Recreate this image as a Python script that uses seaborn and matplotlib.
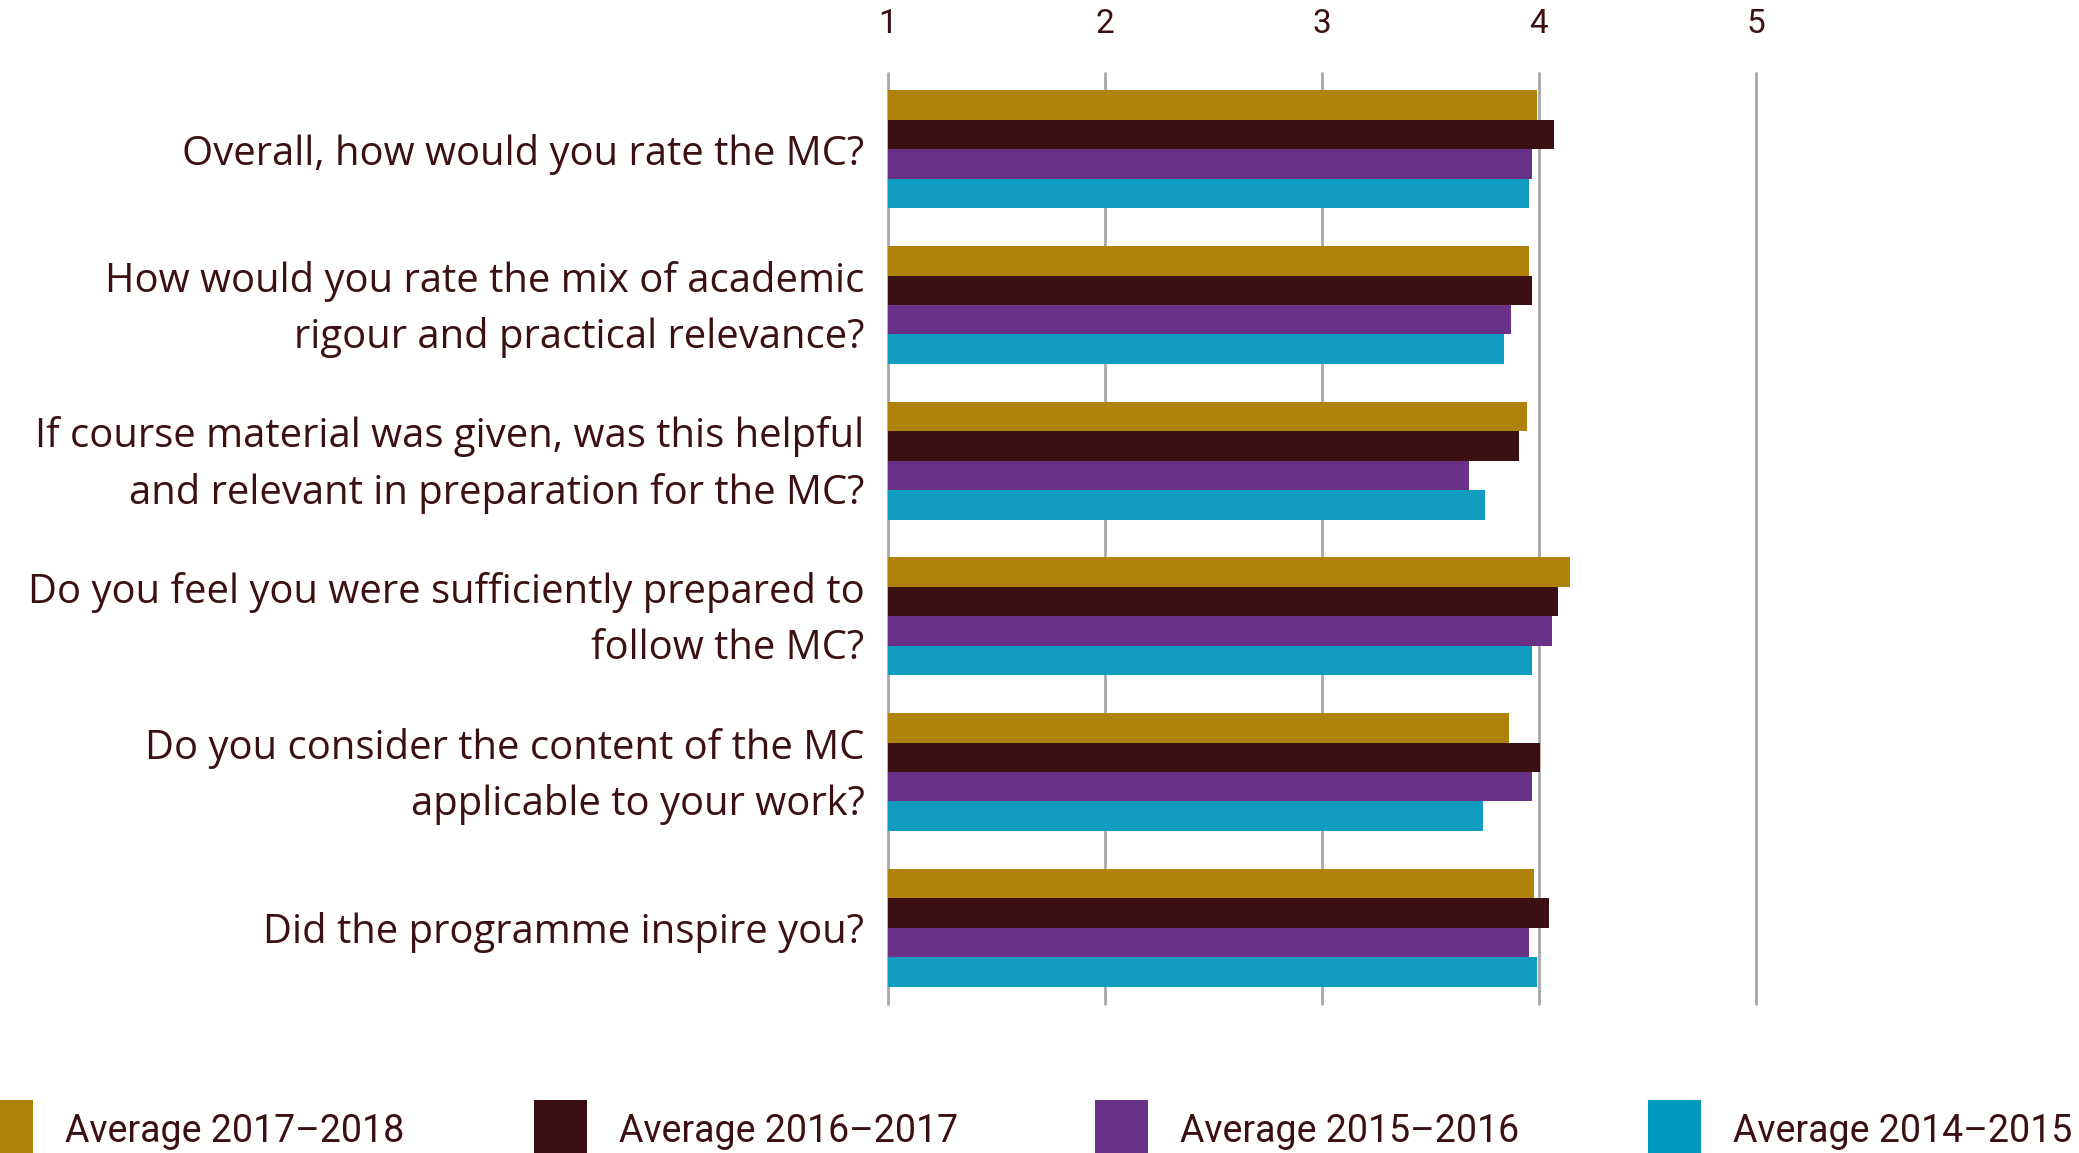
"""
Course evaluation averages per question, four academic years
Horizontal grouped bar chart
"""

import pandas as pd
import matplotlib
matplotlib.use("Agg")
import matplotlib.pyplot as plt
from matplotlib.patches import Rectangle
from matplotlib.transforms import ScaledTranslation
import seaborn as sns

# Questions (top to bottom)
questions = [
    "Overall, how would you rate the MC?",
    "How would you rate the mix of academic\nrigour and practical relevance?",
    "If course material was given, was this helpful\nand relevant in preparation for the MC?",
    "Do you feel you were sufficiently prepared to\nfollow the MC?",
    "Do you consider the content of the MC\napplicable to your work?",
    "Did the programme inspire you?",
]

series_names = ["Average 2017–2018", "Average 2016–2017",
                "Average 2015–2016", "Average 2014–2015"]

avg_2017_2018 = [3.99, 3.955, 3.945, 4.145, 3.86, 3.975]
avg_2016_2017 = [4.07, 3.97, 3.91, 4.09, 4.005, 4.045]
avg_2015_2016 = [3.97, 3.87, 3.68, 4.06, 3.97, 3.955]
avg_2014_2015 = [3.955, 3.84, 3.75, 3.97, 3.74, 3.99]

x_ticks = [1, 2, 3, 4, 5]

colors = ["#AF820B", "#3C1012", "#6A3286", "#109BC0"]
legend_colors = ["#AF820B", "#3C1012", "#6A3286", "#009BBF"]
text_color = "#3C1012"

# Long-format table for seaborn
rows = []
for name, vals in zip(series_names, [avg_2017_2018, avg_2016_2017,
                                     avg_2015_2016, avg_2014_2015]):
    for q, v in zip(questions, vals):
        rows.append({"question": q, "series": name, "value": v})
df = pd.DataFrame(rows)

sns.set_theme(style="white")
plt.rcParams["font.family"] = ["Roboto", "DejaVu Sans"]

W, H = 2079, 1153
fig = plt.figure(figsize=(W / 100, H / 100), dpi=100)
ax = fig.add_axes([888 / W, 1 - 1004 / H, 933 / W, 931 / H])

sns.barplot(data=df, x="value", y="question", hue="series",
            order=questions, hue_order=series_names, palette=colors,
            orient="h", width=0.757, saturation=1, ax=ax, legend=False,
            errorbar=None, edgecolor="none", linewidth=0, zorder=3)

ax.set_xlim(1, 5.3)
ax.set_ylim(5.49, -0.49)
ax.set_xticks(x_ticks)
ax.xaxis.tick_top()
ax.grid(axis="x", color="#A8A8A8", linewidth=2, zorder=0)
ax.grid(axis="y", visible=False)
for line in ax.get_xgridlines():
    line.set_clip_on(False)
ax.set_axisbelow(True)
for s in ax.spines.values():
    s.set_visible(False)
ax.set_xlabel("")
ax.set_ylabel("")
ax.tick_params(axis="x", length=0, pad=24, labelsize=24, labelcolor=text_color)
ax.tick_params(axis="y", length=0, pad=17, labelcolor=text_color)
for lbl in ax.get_yticklabels():
    lbl.set_horizontalalignment("right")
    lbl.set_fontfamily(["Open Sans", "DejaVu Sans"])
    lbl.set_fontsize(28.8)
    lbl.set_linespacing(1.5)
    if "\n" in lbl.get_text():
        # two-line labels sit a little higher in the original
        lbl.set_transform(lbl.get_transform()
                          + ScaledTranslation(0, 6 / 72, fig.dpi_scale_trans))

# Legend row along the bottom edge
sq_left = [-20, 534, 1095, 1648]
for left, col, name in zip(sq_left, legend_colors, series_names):
    fig.add_artist(Rectangle((left / W, 0), 53 / W, 53 / H,
                             transform=fig.transFigure, color=col, lw=0))
    fig.text((left + 85) / W, 1 - 1132 / H, name, fontsize=27,
             color=text_color, va="center", ha="left")

fig.savefig("out.png", dpi=100)
